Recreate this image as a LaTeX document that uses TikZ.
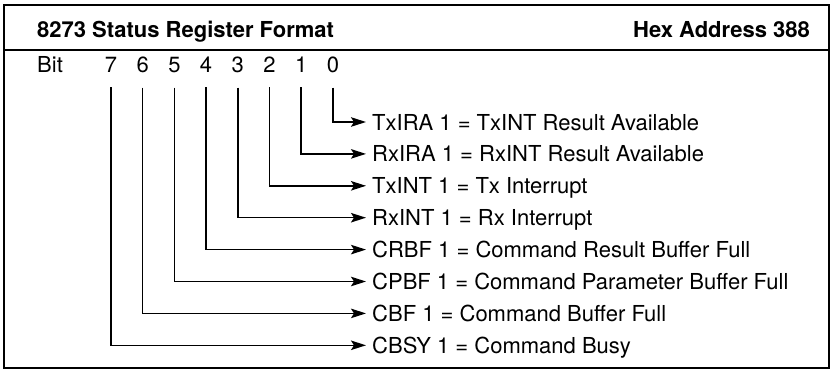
\documentclass[tikz,border=0pt]{standalone}
\usepackage{fontspec}
\setmainfont{TeX Gyre Heros}
\usetikzlibrary{arrows.meta,positioning}
\tikzset{
  headtext/.style={
    font=\fontsize{22}{26}\selectfont\bfseries,
    inner sep=0pt
  },
  bitnum/.style={
    font=\fontsize{22}{26}\selectfont,
    inner sep=0pt
  },
  fieldtext/.style={
    font=\fontsize{22}{26}\selectfont,
    anchor=west,
    inner xsep=6pt,
    inner ysep=0pt,
    text height=16pt,
    text depth=0pt
  },
  bitline/.style={
    -{Stealth[length=15pt,width=9.5pt,inset=3pt]},
    line width=1.5pt
  },
  frame/.style={
    line width=1.7pt
  }
}

\begin{document}
\begin{tikzpicture}[x=1pt,y=-1pt]
  \useasboundingbox (0,0) rectangle (833,372);

  % outer box and header rule
  \draw[frame] (4,5) rectangle (829,368);
  \draw[frame] (4,50) -- (829,50);

  \node[headtext, anchor=base west] (title) at (37,37) {8273 Status Register Format};
  \node[headtext, anchor=base east] (addr) at (810,37) {Hex Address 388};

  % bit numbers
  \node[bitnum, anchor=base west] (bit) at (37,72) {Bit};
  \foreach \i in {0,...,7}
    \node[bitnum, anchor=base] (b\i) at ({111+(7-\i)*31.7},72) {\i};

  % field descriptions
  \foreach \i/\txt in {
    0/{TxIRA 1 = TxINT Result Available},
    1/{RxIRA 1 = RxINT Result Available},
    2/{TxINT 1 = Tx Interrupt},
    3/{RxINT 1 = Rx Interrupt},
    4/{CRBF 1 = Command Result Buffer Full},
    5/{CPBF 1 = Command Parameter Buffer Full},
    6/{CBF 1 = Command Buffer Full},
    7/{CBSY 1 = Command Busy}}
  {
    \node[fieldtext] (t\i) at (366,{122+\i*31.9}) {\txt};
    \draw[bitline] ([yshift=-15pt]b\i.south) |- (t\i.west);
  }
\end{tikzpicture}
\end{document}
